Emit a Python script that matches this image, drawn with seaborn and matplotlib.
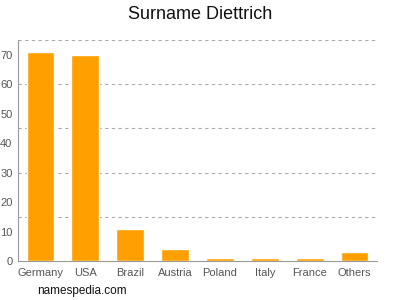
import matplotlib
matplotlib.use("Agg")
import matplotlib.pyplot as plt
import seaborn as sns
import pandas as pd

countries = ["Germany", "USA", "Brazil", "Austria", "Poland", "Italy", "France", "Others"]
counts = [71, 70, 11, 4, 1, 1, 1, 3]
y_ticks = [0, 10, 20, 30, 40, 50, 60, 70]
grid_levels = [15, 30, 45, 60, 75]

sns.set_style("white")
plt.rcParams['font.family'] = ['Liberation Sans', 'DejaVu Sans']

df = pd.DataFrame({"country": countries, "count": counts})

fig = plt.figure(figsize=(4, 3), dpi=100)
ax = fig.add_axes([0.045, 0.13, 0.8975, 0.7367])
sns.barplot(data=df, x="country", y="count", color="#FFA000", saturation=1,
            width=0.62, ax=ax, zorder=3)

ax.set_xlim(-0.5, 7.5)
ax.set_ylim(0, 75)
ax.set_yticks(y_ticks)
for g in grid_levels:
    ax.axhline(g, color="#aaaaaa", linestyle=(0, (3, 3)), linewidth=0.8, zorder=1)

ax.set_xlabel("")
ax.set_ylabel("")
for s in ["top", "right"]:
    ax.spines[s].set_visible(False)
for s in ["left", "bottom"]:
    ax.spines[s].set_color("#999999")
    ax.spines[s].set_linewidth(0.8)
ax.tick_params(axis="both", colors="#999999", length=3, width=0.8, labelsize=8)
ax.tick_params(axis="y", pad=1)
ax.tick_params(axis="x", pad=2)
for lbl in ax.get_xticklabels() + ax.get_yticklabels():
    lbl.set_color("#555555")

fig.text(0.5, 0.953, "Surname Diettrich", ha="center", va="center", fontsize=13, color="#111111")
fig.text(0.092, 0.03, "namespedia.com", ha="left", va="center", fontsize=8.5, color="#111111")

fig.savefig("out.png", dpi=100)
